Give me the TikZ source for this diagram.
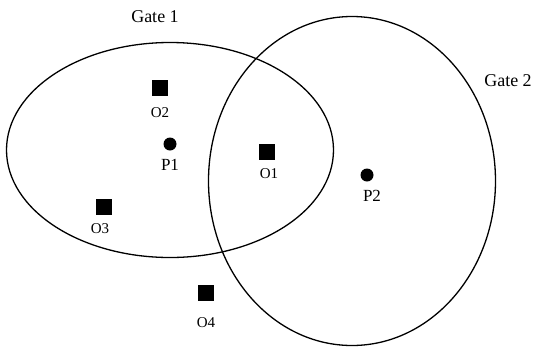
\documentclass[tikz,border=0pt]{standalone}
\usepackage{fontspec}
\setmainfont{Liberation Serif}
\usetikzlibrary{positioning, shapes.geometric}

\begin{document}
\begin{tikzpicture}[
    x=1pt,
    y=-1pt,
    node distance=8pt,
    gate/.style={draw, ellipse, line width=1.3pt, inner sep=0pt},
    obj/.style={fill, rectangle, minimum size=16pt, inner sep=0pt},
    spot/.style={fill, circle, minimum size=13pt, inner sep=0pt},
    tag/.style={inner sep=0pt, font=\fontsize{15}{15}\selectfont},
    gatetag/.style={inner sep=0pt, font=\fontsize{18}{18}\selectfont},
]
    \useasboundingbox (0,0) rectangle (536,346);

    \node[gate, minimum width=327pt, minimum height=215pt] (G1) at (170,150) {};
    \node[gate, minimum width=287pt, minimum height=329pt] (G2) at (352,181) {};

    \node[gatetag] (T1) at (155,17) {Gate 1};
    \node[gatetag] (T2) at (508,81) {Gate 2};

    \node[obj] (O1) at (267,152) {};
    \node[obj] (O2) at (160,88)  {};
    \node[obj] (O3) at (104,207) {};
    \node[obj] (O4) at (206,293) {};
    \node[spot] (P1) at (170,144) {};
    \node[spot] (P2) at (367,175) {};

    \node[tag, below =of O1, xshift=2pt] {O1};
    \node[tag, below =of O2, yshift=-3pt] {O2};
    \node[tag, below =of O3, xshift=-4pt] {O3};
    \node[tag, below =of O4, yshift=-8pt] {O4};
    \node[tag, below =of P1, font=\fontsize{17}{17}\selectfont] {P1};
    \node[tag, below =of P2, xshift=5pt, font=\fontsize{17}{17}\selectfont] {P2};
\end{tikzpicture}
\end{document}
